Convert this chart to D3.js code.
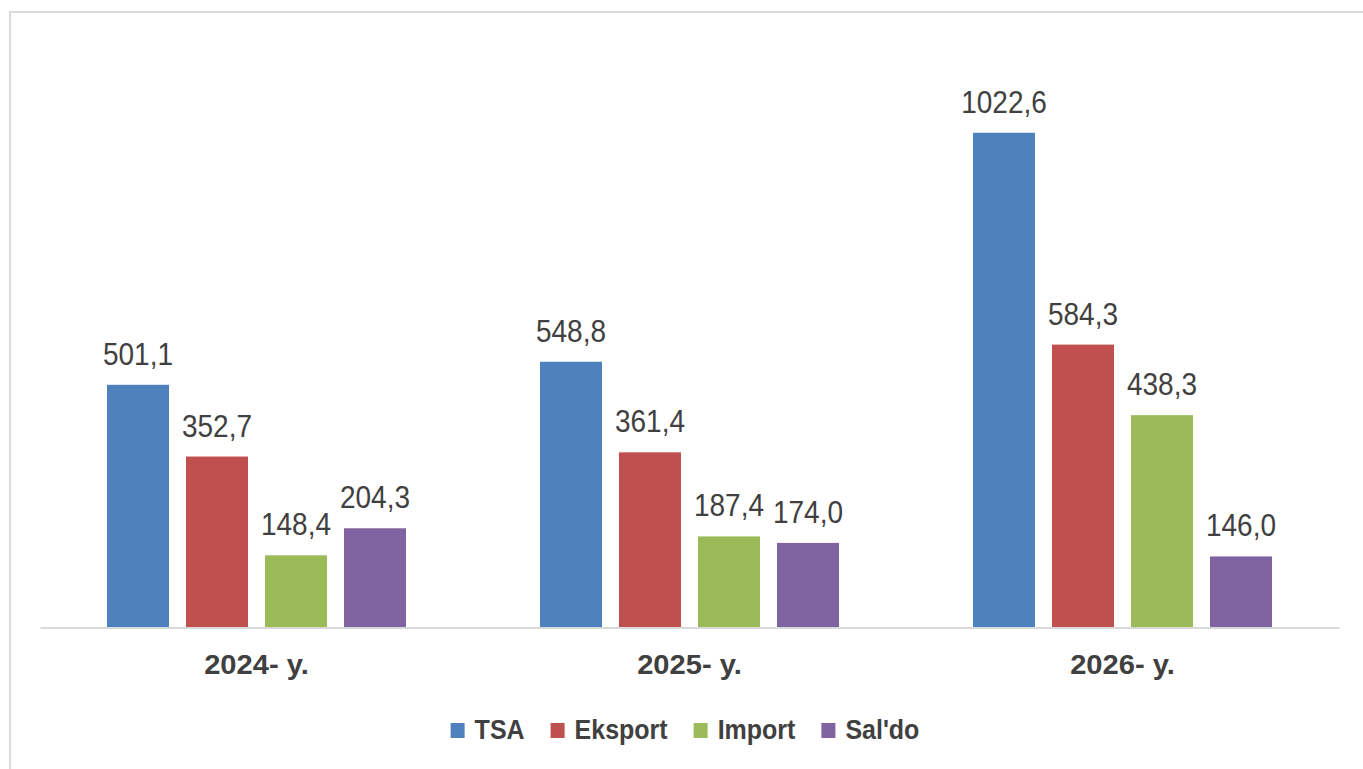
<!DOCTYPE html>
<html>
<head>
<meta charset="utf-8">
<script src="https://cdn.jsdelivr.net/npm/d3@7"></script>
<style>
  body { margin: 0; background: #fff; }
  text { font-family: "Liberation Sans", Arial, sans-serif; fill: #404040; }
</style>
</head>
<body>
<div id="container"></div>
<script>
/* DATA */
const years = ["2024- y.", "2025- y.", "2026- y."];
const series = ["TSA", "Eksport", "Import", "Sal'do"];
const tsa = [501.1, 548.8, 1022.6];
const eksport = [352.7, 361.4, 584.3];
const importVals = [148.4, 187.4, 438.3];
const saldo = [204.3, 174.0, 146.0];
const colors = ["#4F81BD", "#C0504D", "#9BBB59", "#8064A2"];

const values = [tsa, eksport, importVals, saldo];
const rows = years.map((y, i) => ({
  year: y,
  vals: series.map((s, j) => ({ key: s, value: values[j][i] }))
}));

/* CONSTANTS */
const width = 1363, height = 769;
const plot = { left: 40, right: 1339, top: 47, bottom: 627 };

const svg = d3.select("#container").append("svg")
  .attr("width", width)
  .attr("height", height);

// outer frame
svg.append("rect")
  .attr("x", 10).attr("y", 12)
  .attr("width", 1370).attr("height", 780)
  .attr("fill", "none")
  .attr("stroke", "#d9d9d9")
  .attr("stroke-width", 2);

/* SCALES */
const x0 = d3.scaleBand()
  .domain(years)
  .range([plot.left, plot.right]);

const groupPad = 67;
const x1 = d3.scaleBand()
  .domain(series)
  .range([groupPad, x0.bandwidth() - groupPad])
  .paddingInner(0.215);

const y = d3.scaleLinear()
  .domain([0, 1200])
  .range([plot.bottom, plot.top]);

const color = d3.scaleOrdinal().domain(series).range(colors);

/* BARS */
const groups = svg.selectAll("g.grp")
  .data(rows)
  .join("g")
  .attr("class", "grp")
  .attr("transform", d => `translate(${x0(d.year)},0)`);

groups.selectAll("rect")
  .data(d => d.vals)
  .join("rect")
  .attr("x", d => x1(d.key))
  .attr("y", d => y(d.value))
  .attr("width", x1.bandwidth())
  .attr("height", d => y(0) - y(d.value))
  .attr("fill", d => color(d.key));

// value labels (slightly stretched vertically like the source picture)
groups.selectAll("text.val")
  .data(d => d.vals)
  .join("text")
  .attr("class", "val")
  .attr("transform", d => `translate(${x1(d.key) + x1.bandwidth() / 2},${y(d.value) - 20}) scale(1,1.1)`)
  .attr("text-anchor", "middle")
  .style("font-size", "28px")
  .text(d => d3.format(".1f")(d.value).replace(".", ","));

// baseline
const xAxis = d3.axisBottom(x0).tickSize(0).tickPadding(0).tickFormat("");
const gx = svg.append("g")
  .attr("transform", `translate(0,${plot.bottom + 0.5})`)
  .call(xAxis);
gx.select(".domain").attr("stroke", "#d9d9d9").attr("stroke-width", 2);

svg.selectAll("text.cat")
  .data(years)
  .join("text")
  .attr("class", "cat")
  .attr("transform", d => `translate(${x0(d) + x0.bandwidth() / 2},674) scale(1.04,1.02)`)
  .attr("text-anchor", "middle")
  .style("font-size", "28px")
  .style("font-weight", "bold")
  .text(d => d);

/* LEGEND */
const legend = svg.append("g");
const items = legend.selectAll("g")
  .data(series)
  .join("g");

items.append("rect")
  .attr("y", 723)
  .attr("width", 14)
  .attr("height", 15)
  .attr("fill", d => color(d));

items.append("text")
  .attr("transform", "translate(24,739) scale(1,1.12)")
  .style("font-size", "25px")
  .style("font-weight", "bold")
  .text(d => d);

let cx = 0;
items.each(function() {
  const w = this.querySelector("text").getComputedTextLength();
  d3.select(this).attr("transform", `translate(${cx},0)`);
  cx += 24 + w + 26;
});
const totalW = cx - 26;
legend.attr("transform", `translate(${(452 + 918) / 2 - totalW / 2},0)`);
</script>
</body>
</html>
